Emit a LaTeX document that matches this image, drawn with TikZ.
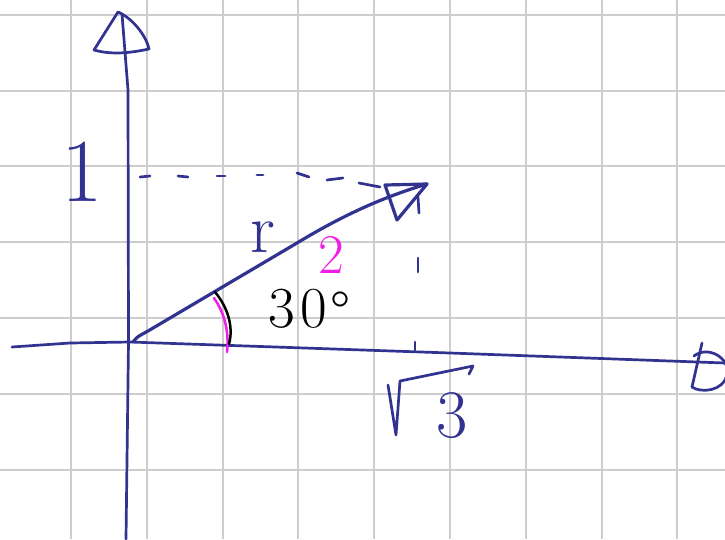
\documentclass[tikz,border=0pt]{standalone}
\definecolor{penblue}{RGB}{50,50,145}
\definecolor{penpink}{RGB}{240,30,230}
\definecolor{gridgray}{RGB}{205,205,205}
\begin{document}
\begin{tikzpicture}[x=1pt,y=-1pt,
  gridline/.style={gridgray,line width=2pt},
  pen/.style={penblue,line width=2.7pt,line cap=round,line join=round},
  thickpen/.style={penblue,line width=3.2pt,line cap=round,line join=round},
  dashpen/.style={penblue,line width=2.7pt,line cap=round},
  lbl/.style={inner sep=0pt,anchor=base}]
\useasboundingbox (0,0) rectangle (725,539);
\fill[white] (0,0) rectangle (725,539);
% grid
\foreach \gx in {71,146.8,222.6,298.4,374.2,450,525.8,601.6,677.4}
  \draw[gridline] (\gx,0) -- (\gx,539);
\foreach \gy in {14.7,90.5,166.3,242.1,317.9,393.7,469.5}
  \draw[gridline] (0,\gy) -- (725,\gy);
% y axis
\coordinate (ytop) at (122,14);
\coordinate (ybot) at (126,539);
\draw[pen] (ytop) -- (128,90) -- (128.5,342) -- (ybot);
\draw[pen] (118,12) -- (94,50) .. controls (112,55) and (130,53) .. (149,49) .. controls (146,35) and (132,18) .. (118,12);
% x axis
\coordinate (xleft) at (12,347);
\coordinate (xright) at (725,363);
\draw[pen] (xleft) -- (70,343) -- (130,342) -- (450,353) -- (xright);
\draw[pen] (702,343) -- (692,387);
\draw[pen] (694,356) .. controls (708,345) and (730,358) .. (727,374) .. controls (724,392) and (700,393) .. (692,387);
% vector
\coordinate (O) at (133,342);
\coordinate (P) at (427,184);
\draw[thickpen] (O) .. controls (137,337) .. (148,331) -- (297,243) .. controls (340,217) and (380,198) .. (P);
\draw[thickpen] (385,185) -- (P) -- (397,220) -- cycle;
% dashed projections
\foreach \ax/\ay/\bx/\by in {140/177/150/176, 178/176/188/177, 217/176/225/176, 257/175/263/175, 297/173/309/177, 327/180/343/178, 359/183/380/187}
  \draw[dashpen] (\ax,\ay) -- (\bx,\by);
\foreach \ax/\ay/\bx/\by in {418/197/419/213, 418/258/418/272, 415/342/415/350}
  \draw[dashpen] (\ax,\ay) -- (\bx,\by);
% angle arcs
\draw[penpink,line width=2.5pt,line cap=round] (214,298) .. controls (226,315) and (229,335) .. (227,352);
\draw[black,line width=2.5pt,line cap=round] (215,292) .. controls (230,310) and (233,330) .. (229,344);
% labels
\node[lbl,penblue,font=\fontsize{90}{90}\selectfont] (one) at (82,201) {1};
\node[lbl,penblue,font=\fontsize{70}{70}\selectfont] (r) at (263,252) {r};
\node[lbl,penpink,font=\fontsize{56}{56}\selectfont] (two) at (331,273) {2};
\node[lbl,anchor=base west,black,font=\fontsize{58}{58}\selectfont] (ang) at (268,327) {3\kern6pt0\kern3pt\raisebox{-4pt}{\textdegree}};
% square root of 3
\node[lbl,penblue,font=\fontsize{68}{68}\selectfont] (three) at (452,437) {3};
\draw[pen] (388,385) -- (396,435) -- (400,381) -- (473,366) -- (469,374);
\end{tikzpicture}
\end{document}
